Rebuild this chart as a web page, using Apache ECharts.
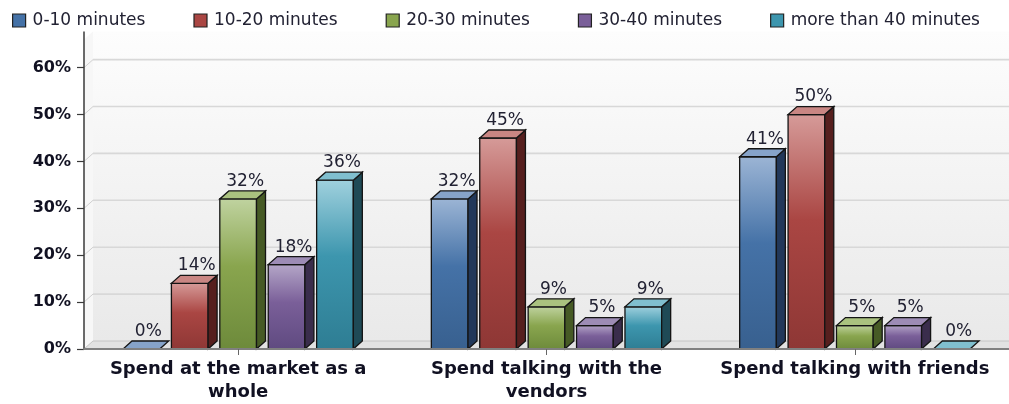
<!DOCTYPE html>
<html>
<head>
<meta charset="utf-8">
<script src="https://cdn.jsdelivr.net/npm/echarts@6/dist/echarts.min.js"></script>
<style>
  html, body { margin: 0; padding: 0; background: #ffffff; }
  #chart { width: 1009px; height: 404px; }
</style>
</head>
<body>
<div id="chart"></div>
<script>
// Time spent at the market, by activity and duration band (percent of respondents)
const categories = ['Spend at the market as a whole', 'Spend talking with the vendors', 'Spend talking with friends'];
const categoryLabels = ['Spend at the market as a\nwhole', 'Spend talking with the\nvendors', 'Spend talking with friends'];
const seriesNames = ['0-10 minutes', '10-20 minutes', '20-30 minutes', '30-40 minutes', 'more than 40 minutes'];
const v0to10 = [0, 32, 41];
const v10to20 = [14, 45, 50];
const v20to30 = [32, 9, 5];
const v30to40 = [18, 5, 5];
const vOver40 = [36, 9, 0];
const yTicks = [0, 10, 20, 30, 40, 50, 60];
const yMax = 66;

const seriesValues = [v0to10, v10to20, v20to30, v30to40, vOver40];

// Shading for each bar colour: front gradient, top face, side face
const palette = [
  { base: '#4572A7', light: '#9cb5d5', dark: '#38608f', top: '#86a3c9', side: '#22385a' },
  { base: '#AA4643', light: '#d69b99', dark: '#8e3735', top: '#c98683', side: '#561f1e' },
  { base: '#89A54E', light: '#c0d3a0', dark: '#6d8a3b', top: '#aac27f', side: '#465a25' },
  { base: '#7A5F99', light: '#b5a7c8', dark: '#5f4a80', top: '#9d8cb5', side: '#3a2d4c' },
  { base: '#3D96AE', light: '#a0d1de', dark: '#2e7d93', top: '#80bfcf', side: '#1f4a56' }
];

// 3D depth offset in pixels
const DX = 9;
const DY = 8;
const OUTLINE = '#141414';

// Back wall, floor, side strip and gridlines
function renderWalls(params, api) {
  const cs = params.coordSys;
  const x0 = cs.x;
  const x1 = cs.x + cs.width;
  const y0 = api.coord([0, 0])[1];
  const yTop = api.coord([0, yMax])[1];
  const children = [];
  // back wall
  children.push({
    type: 'polygon',
    shape: { points: [[x0 + DX, yTop - DY], [x1 + DX, yTop - DY], [x1 + DX, y0 - DY], [x0 + DX, y0 - DY]] },
    style: {
      fill: new echarts.graphic.LinearGradient(0, 0, 0, 1, [
        { offset: 0, color: '#fdfdfd' },
        { offset: 1, color: '#e9e9e9' }
      ])
    }
  });
  // left side strip
  children.push({
    type: 'polygon',
    shape: { points: [[x0, yTop], [x0 + DX, yTop - DY], [x0 + DX, y0 - DY], [x0, y0]] },
    style: { fill: '#f7f7f7' }
  });
  // gridlines on the wall plus their diagonal on the side strip
  yTicks.forEach(function (t) {
    if (t === 0) return;
    const y = api.coord([0, t])[1];
    children.push({
      type: 'line',
      shape: { x1: x0 + DX, y1: y - DY, x2: x1 + DX, y2: y - DY },
      style: { stroke: '#d8d8d8', lineWidth: 1.6 }
    });
    children.push({
      type: 'line',
      shape: { x1: x0, y1: y, x2: x0 + DX, y2: y - DY },
      style: { stroke: '#d0d0d0', lineWidth: 1 }
    });
  });
  // floor
  children.push({
    type: 'polygon',
    shape: { points: [[x0, y0], [x1, y0], [x1 + DX, y0 - DY], [x0 + DX, y0 - DY]] },
    style: { fill: '#e2e2e2', stroke: '#c4c4c4', lineWidth: 1 }
  });
  // vertical axis line, up to the top of the wall
  children.push({
    type: 'line',
    shape: { x1: x0, y1: y0, x2: x0, y2: yTop - DY },
    style: { stroke: '#3a3a3a', lineWidth: 1.5 }
  });
  return { type: 'group', children: children };
}

function makeBarRenderer(s) {
  const c = palette[s];
  return function (params, api) {
    const cat = api.value(0);
    const val = api.value(1);
    const band = api.size([1, 0])[0];
    const base = api.coord([cat, 0]);
    const topPt = api.coord([cat, val]);
    const w = band * 0.119;
    const pitch = band * 0.157;
    const cx = base[0] + (s - 2) * pitch;
    const xl = cx - w / 2;
    const xr = cx + w / 2;
    const y0 = base[1];
    const y1 = topPt[1];
    const children = [];
    if (y0 - y1 > 0.5) {
      children.push({
        type: 'rect',
        shape: { x: xl, y: y1, width: w, height: y0 - y1 },
        style: {
          fill: new echarts.graphic.LinearGradient(0, 0, 0, 1, [
            { offset: 0, color: c.light },
            { offset: 0.45, color: c.base },
            { offset: 1, color: c.dark }
          ]),
          stroke: OUTLINE,
          lineWidth: 1.3
        }
      });
      children.push({
        type: 'polygon',
        shape: { points: [[xr, y0], [xr + DX, y0 - DY], [xr + DX, y1 - DY], [xr, y1]] },
        style: { fill: c.side, stroke: OUTLINE, lineWidth: 1.3 }
      });
    }
    children.push({
      type: 'polygon',
      shape: { points: [[xl, y1], [xr, y1], [xr + DX, y1 - DY], [xl + DX, y1 - DY]] },
      style: { fill: c.top, stroke: OUTLINE, lineWidth: 1.3 }
    });
    children.push({
      type: 'text',
      x: cx + 7,
      y: y1 - DY - 1,
      style: {
        text: val + '%',
        fontFamily: 'DejaVu Sans',
        fontSize: 17,
        fill: '#222233',
        align: 'center',
        verticalAlign: 'bottom'
      }
    });
    return { type: 'group', children: children };
  };
}

const series = [{
  type: 'custom',
  name: 'walls',
  renderItem: renderWalls,
  data: [[0, 0]],
  z: 1,
  silent: true
}];
seriesNames.forEach(function (name, s) {
  series.push({
    type: 'custom',
    name: name,
    renderItem: makeBarRenderer(s),
    itemStyle: { color: palette[s].base },
    data: seriesValues[s].map(function (v, i) { return [i, v]; }),
    z: 3
  });
});

const chart = echarts.init(document.getElementById('chart'), null, { renderer: 'canvas' });
chart.setOption({
  animation: false,
  backgroundColor: '#ffffff',
  legend: {
    left: 12,
    top: 12,
    padding: 0,
    itemWidth: 13,
    itemHeight: 13,
    itemGap: 48,
    selectedMode: false,
    data: seriesNames.map(function (n, s) {
      return {
        name: n,
        icon: 'rect',
        itemStyle: { color: palette[s].base, borderColor: '#222', borderWidth: 1.2 }
      };
    }),
    textStyle: { fontFamily: 'DejaVu Sans', fontSize: 17, color: '#222233', padding: [0, 0, 0, 2] }
  },
  grid: { left: 84, right: -8, top: 39.5, bottom: 51, containLabel: false },
  xAxis: {
    type: 'category',
    data: categories,
    z: 5,
    axisLine: { show: true, lineStyle: { color: '#808080', width: 2 } },
    axisTick: { show: true, alignWithLabel: true, length: 6, lineStyle: { color: '#666' } },
    axisLabel: {
      margin: 9,
      interval: 0,
      fontFamily: 'DejaVu Sans',
      fontWeight: 'bold',
      fontSize: 18,
      lineHeight: 23,
      color: '#111122',
      formatter: function (v, i) { return categoryLabels[i]; }
    }
  },
  yAxis: {
    type: 'value',
    min: 0,
    max: yMax,
    axisLine: { show: false },
    splitLine: { show: false },
    axisTick: { show: true, length: 7, customValues: yTicks, lineStyle: { color: '#3a3a3a', width: 1.2 } },
    axisLabel: {
      customValues: yTicks,
      margin: 13,
      fontFamily: 'DejaVu Sans',
      fontWeight: 'bold',
      fontSize: 16,
      color: '#111122',
      formatter: function (v) { return v + '%'; }
    }
  },
  series: series
});
</script>
</body>
</html>
